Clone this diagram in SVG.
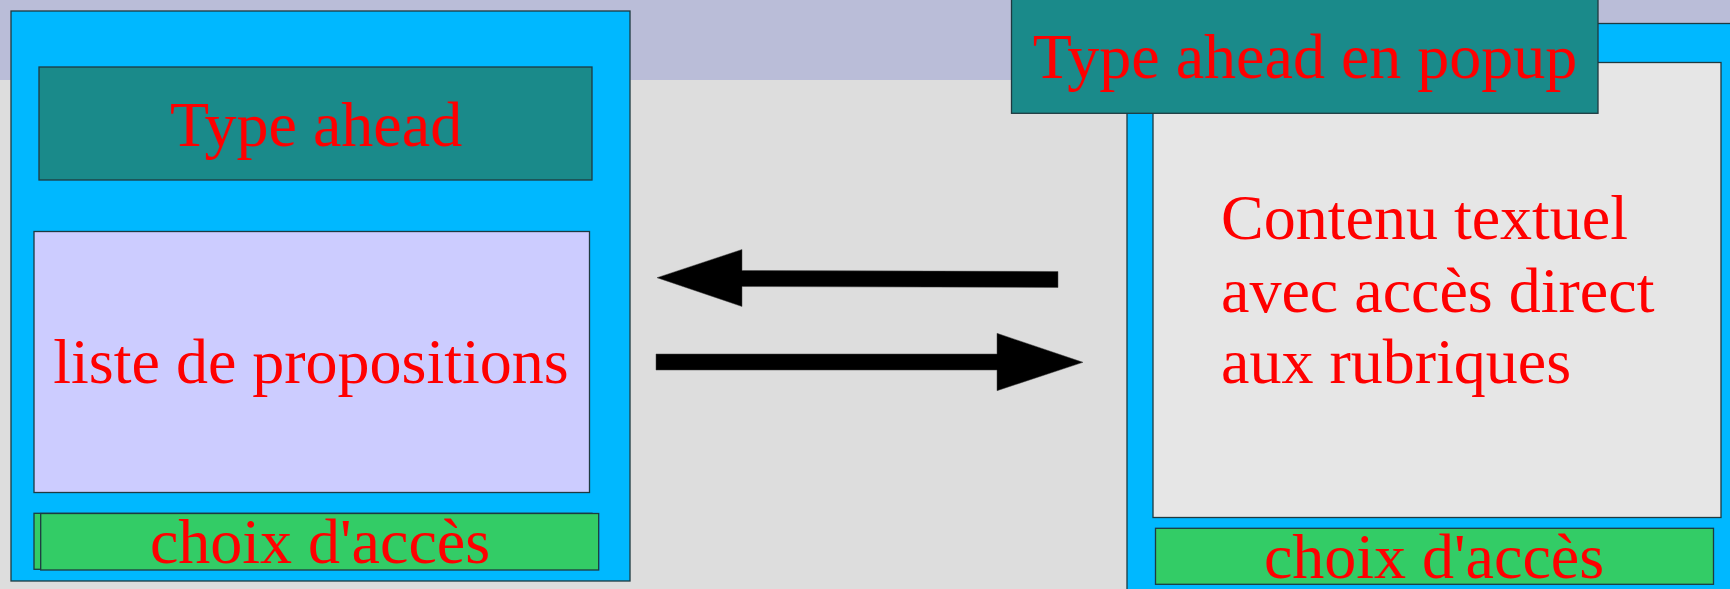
<svg xmlns="http://www.w3.org/2000/svg" width="1730" height="589" viewBox="0 0 1730 589">
<style>
.t{font-family:"Liberation Serif","Times New Roman",serif;font-size:64px;fill:#ff0000}
.c{text-anchor:middle}
.bx{stroke:#1e3a40;stroke-width:1.3}
.arr{fill:#000;stroke:#444;stroke-width:0.5}
</style>
<rect x="0" y="0" width="1730" height="589" fill="#dddddd"/>
<rect x="0" y="0" width="1730" height="80" fill="#babdd8"/>
<g id="left-window">
<rect class="bx" x="11" y="11" width="619" height="570" fill="#00b8ff" stroke="#333"/>
</g>
<g id="type-ahead">
<rect class="bx" x="39" y="67" width="553" height="113" fill="#1a8a8a"/>
<text class="t c" x="316" y="146">Type ahead</text>
</g>
<g id="liste-propositions">
<rect class="bx" x="34" y="231.5" width="555.5" height="261" fill="#ccccff"/>
<text class="t c" x="311" y="383">liste de propositions</text>
</g>
<g id="choix-acces-left">
<rect class="bx" x="34" y="513.3" width="558" height="56" fill="#33cc66"/>
<rect class="bx" x="40.7" y="513.5" width="558" height="56.5" fill="#33cc66"/>
<text class="t c" x="320" y="563">choix d'accès</text>
</g>
<g id="right-window">
<rect class="bx" x="1127" y="23.5" width="620" height="600" fill="#00b8ff" stroke="#333"/>
<rect class="bx" x="1153" y="62.5" width="568" height="455" fill="#e6e6e6" stroke="#333"/>
</g>
<g id="type-ahead-popup">
<rect class="bx" x="1011.5" y="-2" width="586.5" height="115.3" fill="#1a8a8a"/>
<text class="t c" x="1305" y="78">Type ahead en popup</text>
</g>
<g id="contenu-textuel">
<text class="t" x="1221" y="239">Contenu textuel</text>
<text class="t" x="1221" y="311.5">avec accès direct</text>
<text class="t" x="1221" y="383">aux rubriques</text>
</g>
<g id="choix-acces-right">
<rect class="bx" x="1155.5" y="528.3" width="558" height="56" fill="#33cc66"/>
<text class="t c" x="1434" y="578">choix d'accès</text>
</g>
<g id="connectors">
<polygon class="arr" points="1058,271.5 742,270.5 742,249.5 657,277.7 742,306.5 742,286.5 1058,287.5"/>
<polygon class="arr" points="656,354 997,354 997,333.3 1083,362.3 997,390.7 997,370 656,370"/>
</g>
</svg>
